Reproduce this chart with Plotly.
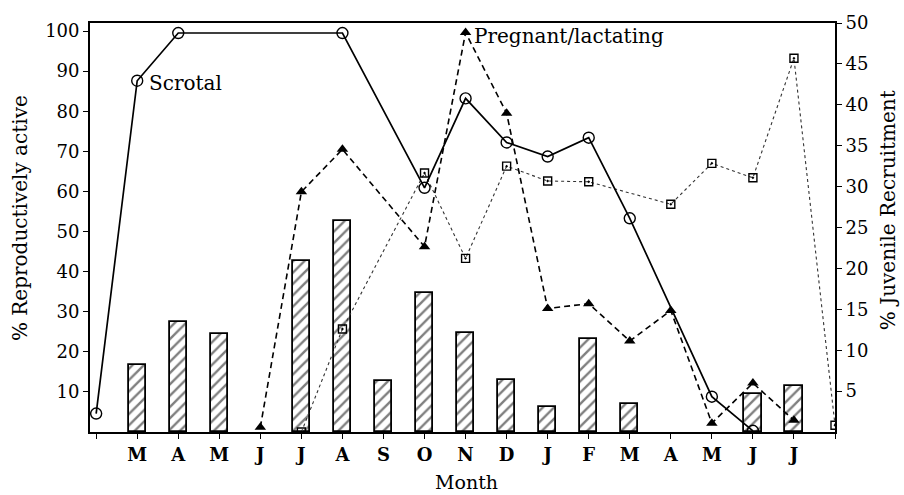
import plotly.graph_objects as go

# ---- data ----
positions = list(range(19))
month_labels = ["", "M", "A", "M", "J", "J", "A", "S", "O", "N", "D", "J", "F", "M", "A", "M", "J", "J", ""]

# % reproductively active (left axis)
scrotal = [4.6, 87.6, 99.5, None, None, None, 99.5, None, 60.9, 83.2, 72.2, 68.7, 73.4, 53.3, None, 8.8, 0.3, None, None]
pregnant = [None, None, None, None, 1.2, 59.9, 70.5, None, 46.2, 99.6, 79.5, 30.8, 32.0, 22.7, 30.3, 2.2, 12.2, 2.9, None]
squares = [None, None, None, None, None, 0, 25.7, None, 64.6, 43.3, 66.3, 62.6, 62.4, None, 56.8, 67.0, 63.4, 93.2, 1.7]

# % juvenile recruitment (right axis)
juvenile = [None, 8.2, 13.4, 12.0, None, 20.9, 25.8, 6.2, 17.0, 12.1, 6.4, 3.1, 11.4, 3.4, None, None, 4.7, 5.6, None]

left_ticks = [10, 20, 30, 40, 50, 60, 70, 80, 90, 100]
right_ticks = [5, 10, 15, 20, 25, 30, 35, 40, 45, 50]

SERIF = "DejaVu Serif"

fig = go.Figure()

# bars on base axis (right side, juvenile recruitment)
fig.add_trace(go.Bar(
    x=positions, y=juvenile, yaxis="y", width=0.42,
    marker=dict(color="white", line=dict(color="black", width=1.8),
                pattern=dict(shape="/", fgcolor="black", bgcolor="white", size=8, solidity=0.3)),
    showlegend=False, hoverinfo="skip"))

# lines on overlaid left axis
fig.add_trace(go.Scatter(
    x=positions, y=squares, yaxis="y2", mode="lines+markers", connectgaps=True,
    line=dict(color="#333", width=1.1, dash="dot"),
    marker=dict(symbol="square-open-dot", size=8, color="black", line=dict(width=1.4)),
    showlegend=False))
fig.add_trace(go.Scatter(
    x=positions, y=pregnant, yaxis="y2", mode="lines+markers", connectgaps=True,
    line=dict(color="black", width=1.6, dash="6px,4px"),
    marker=dict(symbol="triangle-up", size=10, color="black"),
    showlegend=False))
fig.add_trace(go.Scatter(
    x=positions, y=scrotal, yaxis="y2", mode="lines+markers", connectgaps=True,
    line=dict(color="black", width=1.7),
    marker=dict(symbol="circle-open", size=11, color="black", line=dict(width=1.4)),
    showlegend=False))

fig.update_layout(
    width=904, height=495,
    margin=dict(l=90, r=69, t=15, b=63),
    paper_bgcolor="white", plot_bgcolor="white",
    bargap=0,
    xaxis=dict(
        range=[-0.15, 18.0], tickmode="array", tickvals=positions, ticktext=month_labels,
        ticks="outside", ticklen=5, tickwidth=1.3, tickcolor="black",
        showline=True, linecolor="black", linewidth=1.8, mirror=True,
        showgrid=False, zeroline=False,
        tickfont=dict(family=SERIF, size=18, color="black", weight="bold"),
    ),
    yaxis=dict(
        side="right", range=[0, 50], tickmode="array", tickvals=right_ticks,
        ticks="outside", ticklen=5, tickwidth=1.3, tickcolor="black",
        showline=True, linecolor="black", linewidth=1.8,
        showgrid=False, zeroline=False,
        tickfont=dict(family=SERIF, size=18, color="black"),
    ),
    yaxis2=dict(
        side="left", overlaying="y", range=[0, 102], tickmode="array", tickvals=left_ticks,
        ticks="outside", ticklen=5, tickwidth=1.3, tickcolor="black",
        showline=True, linecolor="black", linewidth=1.8,
        showgrid=False, zeroline=False,
        tickfont=dict(family=SERIF, size=18, color="black"),
    ),
    annotations=[
        dict(text="% Reproductively active", xref="paper", yref="paper", x=-0.094, y=0.523,
             textangle=-90, showarrow=False, xanchor="center", yanchor="middle",
             font=dict(family=SERIF, size=20, color="black")),
        dict(text="% Juvenile Recruitment", xref="paper", yref="paper", x=1.071, y=0.542,
             textangle=-90, showarrow=False, xanchor="center", yanchor="middle",
             font=dict(family=SERIF, size=20, color="black")),
        dict(text="Month", xref="paper", yref="paper", x=0.506, y=-0.122,
             showarrow=False, xanchor="center", yanchor="middle",
             font=dict(family=SERIF, size=19, color="black")),
        dict(text="Scrotal", xref="x", yref="y2", x=1.24, y=87.0,
             showarrow=False, xanchor="left", yanchor="middle",
             font=dict(family=SERIF, size=20, color="black")),
        dict(text="Pregnant/lactating", xref="x", yref="y2", x=9.15, y=98.8,
             showarrow=False, xanchor="left", yanchor="middle",
             font=dict(family=SERIF, size=20, color="black")),
    ],
)

fig.write_html("out.html", config={"displayModeBar": False},
               post_script="document.body.style.margin='0';")
